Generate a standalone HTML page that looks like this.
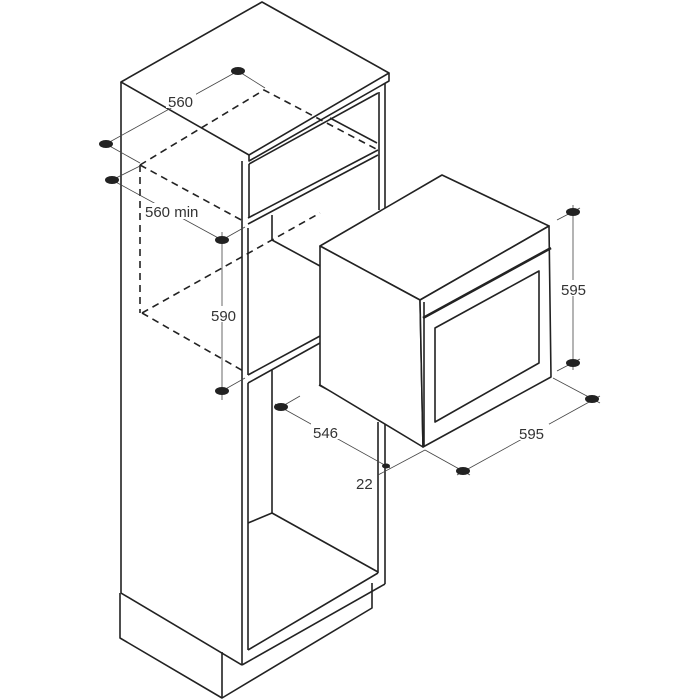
<!DOCTYPE html>
<html><head><style>
html,body{margin:0;padding:0;background:#fff;}
svg{display:block;}
text{font-family:"Liberation Sans",sans-serif;font-size:15px;fill:#333;}
</style></head><body>
<svg width="700" height="700" viewBox="0 0 700 700" xmlns="http://www.w3.org/2000/svg">
<g fill="none" stroke="#222" stroke-width="1.6" stroke-linejoin="round">
<polygon points="262,2 389,73 249,155 121,82"/>
<polyline points="249,155 249,161 389,81 389,73"/>
<line x1="121" y1="82" x2="121" y2="593"/>
<line x1="121" y1="593" x2="242" y2="665"/>
<polyline points="120,593 120,638 222,698 372,608 372,583"/>
<line x1="222" y1="652" x2="222" y2="698"/>
<line x1="242" y1="161" x2="242" y2="665"/>
<line x1="242" y1="665" x2="385" y2="584"/>
<line x1="385" y1="83" x2="385" y2="208"/>
<line x1="379" y1="92" x2="379" y2="210"/>
<line x1="385" y1="420" x2="385" y2="584"/>
<line x1="378" y1="422" x2="378" y2="573"/>
<line x1="249" y1="164" x2="378" y2="93"/>
<line x1="249" y1="164" x2="249" y2="218"/>
<line x1="248" y1="218" x2="378" y2="150"/>
<line x1="248" y1="224" x2="378" y2="155"/>
<line x1="330" y1="118" x2="377" y2="143"/>
<line x1="248" y1="228" x2="248" y2="375"/>
<line x1="272" y1="215" x2="272" y2="240"/>
<line x1="272" y1="240" x2="320" y2="266"/>
<line x1="248" y1="375" x2="320" y2="336"/>
<line x1="248" y1="383" x2="320" y2="343"/>
<line x1="248" y1="383" x2="248" y2="650"/>
<line x1="272" y1="370" x2="272" y2="513"/>
<line x1="272" y1="513" x2="378" y2="572"/>
<line x1="248" y1="523" x2="272" y2="513"/>
<line x1="248" y1="650" x2="378" y2="573"/>
<line x1="319" y1="385" x2="410" y2="433"/>
<polygon points="442,175 549,226 420,300 320,246" fill="#fff"/>
<polygon points="320,246 420,300 423,447 320,385" fill="#fff"/>
<polygon points="420,300 549,226 551,377 423,447" fill="#fff"/>
<line x1="424" y1="302" x2="424" y2="447"/>
<line x1="423" y1="318" x2="551" y2="248" stroke-width="2.6"/>
<polygon points="435,328 539,271 539,363 435,422"/>
</g>
<g fill="none" stroke="#222" stroke-width="1.6" stroke-dasharray="7,5">
<polyline points="140,165 264,90 378,150"/>
<line x1="140" y1="165" x2="245" y2="222"/>
<line x1="140" y1="165" x2="140" y2="313"/>
<line x1="142" y1="313" x2="245" y2="372"/>
<line x1="142" y1="313" x2="320" y2="213"/>
</g>
<g fill="none" stroke="#444" stroke-width="0.8">
<line x1="106" y1="144" x2="238" y2="71"/>
<line x1="238" y1="71" x2="265" y2="88"/>
<line x1="106" y1="144" x2="140" y2="163"/>
<line x1="112" y1="180" x2="222" y2="240"/>
<line x1="112" y1="180" x2="140" y2="166"/>
<line x1="222" y1="240" x2="245" y2="227"/>
<line x1="222" y1="232" x2="222" y2="400"/>
<line x1="222" y1="391" x2="245" y2="378"/>
<line x1="275" y1="404" x2="390" y2="468"/>
<line x1="281" y1="407" x2="300" y2="396"/>
<line x1="378" y1="475" x2="425" y2="450"/>
<line x1="573" y1="205" x2="573" y2="370"/>
<line x1="557" y1="220" x2="580" y2="208"/>
<line x1="557" y1="371" x2="580" y2="359"/>
<line x1="457" y1="475" x2="600" y2="396"/>
<line x1="553" y1="378" x2="600" y2="403"/>
<line x1="425" y1="450" x2="470" y2="475"/>
</g>
<g fill="#222">
<ellipse cx="238" cy="71" rx="7" ry="4"/>
<ellipse cx="106" cy="144" rx="7" ry="4"/>
<ellipse cx="112" cy="180" rx="7" ry="4"/>
<ellipse cx="222" cy="240" rx="7" ry="4"/>
<ellipse cx="222" cy="391" rx="7" ry="4"/>
<ellipse cx="281" cy="407" rx="7" ry="4"/>
<ellipse cx="386" cy="466" rx="4" ry="2.5"/>
<ellipse cx="573" cy="212" rx="7" ry="4"/>
<ellipse cx="573" cy="363" rx="7" ry="4"/>
<ellipse cx="592" cy="399" rx="7" ry="4"/>
<ellipse cx="463" cy="471" rx="7" ry="4"/>
</g>
<g>
<rect x="166" y="92" width="30" height="16" fill="#fff"/>
<text x="168" y="107">560</text>
<rect x="143" y="203" width="60" height="16" fill="#fff"/>
<text x="145" y="217">560 min</text>
<rect x="210" y="306" width="30" height="16" fill="#fff"/>
<text x="211" y="321">590</text>
<rect x="311" y="423" width="32" height="16" fill="#fff"/>
<text x="313" y="438">546</text>
<text x="356" y="489">22</text>
<rect x="560" y="280" width="30" height="16" fill="#fff"/>
<text x="561" y="295">595</text>
<rect x="517" y="424" width="32" height="16" fill="#fff"/>
<text x="519" y="439">595</text>
</g>
</svg>
</body></html>
